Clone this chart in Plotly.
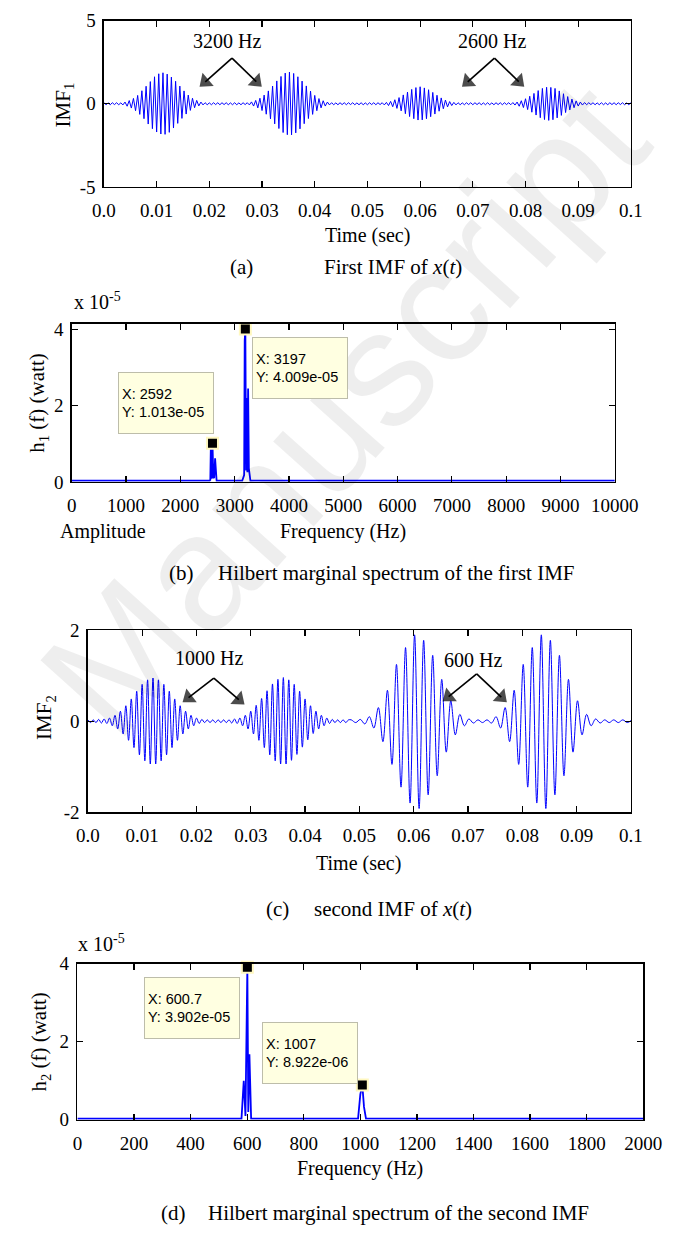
import math
import numpy as np
import plotly.graph_objects as go

W, H = 690, 1237
SERIF = "Liberation Serif, Times New Roman, serif"
NARROW = "Liberation Sans Narrow, Arial Narrow, Liberation Sans, Arial, sans-serif"
BLUE = "#0000ff"

# ---------------- data: panel (a) first IMF, alternating extrema, sampled every 0.4 ms
imf1_dt = 0.0004
imf1_quiet0 = [0.06, -0.06, 0.05, -0.06, 0.06, -0.05, 0.06, -0.06, 0.05, -0.07]
imf1_burst1 = [0.10, -0.15, 0.19, -0.26, 0.32, -0.42, 0.50, -0.64, 0.78, -0.90, 1.05, -1.22, 1.33,
               -1.50, 1.62, -1.70, 1.80, -1.82, 1.86, -1.84, 1.78, -1.72, 1.60, -1.46, 1.35, -1.18,
               1.06, -0.88, 0.77, -0.62, 0.52, -0.40, 0.33, -0.24, 0.20, -0.13, 0.10]
imf1_quiet1 = [-0.07, 0.06, -0.06, 0.05, -0.06, 0.06, -0.05, 0.06, -0.06, 0.06, -0.05, 0.06, -0.06,
               0.05, -0.06, 0.06, -0.06, 0.05, -0.06, 0.06, -0.05, 0.06, -0.07]
imf1_burst2 = [0.11, -0.14, 0.20, -0.25, 0.33, -0.41, 0.52, -0.63, 0.77, -0.91, 1.06, -1.21, 1.37,
               -1.49, 1.64, -1.73, 1.84, -1.86, 1.90, -1.87, 1.82, -1.75, 1.62, -1.51, 1.36, -1.20,
               1.07, -0.89, 0.76, -0.64, 0.50, -0.42, 0.31, -0.25, 0.18, -0.14, 0.10]
imf1_quiet2 = [-0.07, 0.06, -0.06, 0.05, -0.06, 0.06, -0.05, 0.06, -0.06, 0.06, -0.05, 0.06, -0.06,
               0.05, -0.06, 0.06, -0.06, 0.05, -0.06, 0.06, -0.05, 0.06, -0.06, 0.06, -0.05, 0.06, -0.07]
imf1_burst3 = [0.08, -0.11, 0.14, -0.18, 0.24, -0.28, 0.37, -0.43, 0.53, -0.60, 0.70, -0.77, 0.86,
               -0.90, 0.97, -0.98, 1.02, -0.97, 0.95, -0.90, 0.84, -0.78, 0.68, -0.62, 0.51, -0.45,
               0.35, -0.30, 0.22, -0.19, 0.13, -0.11, 0.08]
imf1_quiet3 = [-0.07, 0.06, -0.06, 0.05, -0.06, 0.06, -0.05, 0.06, -0.06, 0.06, -0.05, 0.06, -0.06,
               0.05, -0.06, 0.06, -0.06, 0.05, -0.06, 0.06, -0.05, 0.06, -0.06, 0.06, -0.05, 0.06,
               -0.06, 0.07]
imf1_burst4 = [-0.08, 0.10, -0.15, 0.18, -0.23, 0.30, -0.35, 0.45, -0.51, 0.62, -0.68, 0.79, -0.84,
               0.92, -0.95, 0.99, -1.00, 0.98, -0.96, 0.92, -0.85, 0.77, -0.70, 0.60, -0.53, 0.43,
               -0.37, 0.28, -0.24, 0.17, -0.14, 0.10, -0.08]
imf1_quiet4 = [0.07, -0.06, 0.06, -0.05, 0.06, -0.06, 0.05, -0.06, 0.06, -0.06, 0.05, -0.06, 0.06,
               -0.05, 0.06, -0.06, 0.06, -0.05, 0.06, -0.06, 0.05, -0.06, 0.06]

# ---------------- data: panel (c) second IMF, extrema of 1000 Hz part (0.5 ms) and 600 Hz part
imf2_dt_a = 0.0005
imf2_a_values = ([0.03, -0.03, 0.03, -0.03, 0.04, -0.04, 0.05]
                 + [-0.05, 0.07, -0.10, 0.13, -0.17, 0.22, -0.28, 0.34, -0.42, 0.49, -0.58, 0.66,
                    -0.74, 0.81, -0.87, 0.91, -0.94, 0.95, -0.94, 0.91, -0.87, 0.81, -0.74, 0.66,
                    -0.58, 0.49, -0.42, 0.34, -0.28, 0.22, -0.17, 0.13, -0.10, 0.07, -0.05]
                 + [0.04, -0.03, 0.03, -0.03, 0.03, -0.03, 0.03, -0.03, 0.03, -0.03, 0.03, -0.04, 0.05]
                 + [-0.05, 0.07, -0.10, 0.13, -0.17, 0.22, -0.28, 0.35, -0.42, 0.50, -0.58, 0.67,
                    -0.74, 0.82, -0.87, 0.92, -0.94, 0.96, -0.94, 0.91, -0.86, 0.81, -0.73, 0.66,
                    -0.57, 0.49, -0.41, 0.34, -0.27, 0.22, -0.17, 0.13, -0.10, 0.07, -0.05]
                 + [0.04, -0.03, 0.03, -0.03, 0.03, -0.03, 0.03])
imf2_t0_b = 0.0485
imf2_dt_b = 1.0 / 1200.0
imf2_b_values = ([0.03, -0.03, 0.04, -0.06]
                 + [0.10, -0.15, 0.30, -0.45, 0.68, -0.95, 1.25, -1.45, 1.62, -1.80, 1.90, -1.92,
                    1.78, -1.62, 1.45, -1.20, 0.92, -0.68, 0.45, -0.30, 0.15, -0.10]
                 + [0.05, -0.04, 0.03, -0.03, 0.03, -0.04]
                 + [0.10, -0.15, 0.30, -0.45, 0.68, -0.95, 1.25, -1.45, 1.62, -1.80, 1.90, -1.92,
                    1.78, -1.62, 1.45, -1.20, 0.92, -0.68, 0.45, -0.30, 0.15, -0.10]
                 + [0.05, -0.04, 0.03, -0.03, 0.03, -0.03, 0.03, -0.03, 0.03])

# ---------------- data: Hilbert marginal spectra (values in units of 1e-5 watt)
h_unit = 1e-5
h1_freq = [0, 2540, 2552, 2562, 2576, 2592, 2608, 2624, 2640, 2654, 2668, 3140, 3160, 3175, 3185,
           3197, 3210, 3222, 3235, 3248, 3262, 3276, 3290, 10000]
h1_vals = [0.03, 0.03, 0.05, 0.95, 0.08, 1.013, 0.10, 0.12, 0.62, 0.05, 0.03, 0.03, 0.12, 0.18, 3.70,
           4.009, 0.30, 2.20, 0.25, 2.45, 0.35, 0.12, 0.03, 0.03]
h1_tips_x = [2592, 3197]
h1_tips_y = [1.013, 4.009]

h2_freq = [0, 580, 588, 594, 600.7, 604, 608, 614, 992, 1000, 1007, 1013, 1020, 2000]
h2_vals = [0.03, 0.03, 1.0, 0.1, 3.902, 0.2, 1.68, 0.03, 0.03, 0.65, 0.8922, 0.33, 0.03, 0.03]
h2_tips_x = [600.7, 1007]
h2_tips_y = [3.902, 0.8922]

# ---------------- tick labels
time_ticks = [0.0, 0.01, 0.02, 0.03, 0.04, 0.05, 0.06, 0.07, 0.08, 0.09, 0.1]
time_ticktext = ["0.0", "0.01", "0.02", "0.03", "0.04", "0.05", "0.06", "0.07", "0.08", "0.09", "0.1"]
f1_ticks = [0, 1000, 2000, 3000, 4000, 5000, 6000, 7000, 8000, 9000, 10000]
f2_ticks = [0, 200, 400, 600, 800, 1000, 1200, 1400, 1600, 1800, 2000]
h_ticks = [0, 2, 4]

# ---------------- layout geometry (pixels)
PANELS = {
    "a": dict(x="x", y="y", left=97, right=653, top=10.7, bottom=180, xr=[0, 0.1], yr=[-5, 5]),
    "b": dict(x="x2", y="y2", left=63, right=636, top=319, bottom=480, xr=[0, 10000], yr=[0, 4.15e-5]),
    "c": dict(x="x3", y="y3", left=80, right=653, top=631, bottom=816, xr=[0, 0.1], yr=[-2, 2]),
    "d": dict(x="x4", y="y4", left=69, right=666, top=970, bottom=1129, xr=[0, 2000], yr=[0, 4e-5]),
}

# ---------------- build series
imf1_values = (imf1_quiet0 + imf1_burst1 + imf1_quiet1 + imf1_burst2 + imf1_quiet2 + imf1_burst3
               + imf1_quiet3 + imf1_burst4 + imf1_quiet4)
imf1_t = np.arange(len(imf1_values)) * imf1_dt
imf2_t = np.concatenate([np.arange(len(imf2_a_values)) * imf2_dt_a,
                         imf2_t0_b + np.arange(len(imf2_b_values)) * imf2_dt_b])
imf2_values = imf2_a_values + imf2_b_values

fig = go.Figure()
fig.add_trace(go.Scatter(x=imf1_t, y=imf1_values, mode="lines", xaxis="x", yaxis="y",
                         line=dict(color=BLUE, width=1), hoverinfo="skip"))
fig.add_trace(go.Scatter(x=h1_freq, y=[v * h_unit for v in h1_vals], mode="lines", xaxis="x2", yaxis="y2",
                         line=dict(color=BLUE, width=1.8), hoverinfo="skip"))
fig.add_trace(go.Scatter(x=h1_tips_x, y=[v * h_unit for v in h1_tips_y], mode="markers", xaxis="x2",
                         yaxis="y2", cliponaxis=False, hoverinfo="skip",
                         marker=dict(symbol="square", size=11, color="black",
                                     line=dict(color="#fff8c0", width=2))))
fig.add_trace(go.Scatter(x=imf2_t, y=imf2_values, mode="lines", xaxis="x3", yaxis="y3",
                         line=dict(color=BLUE, width=1, shape="spline"), hoverinfo="skip"))
fig.add_trace(go.Scatter(x=h2_freq, y=[v * h_unit for v in h2_vals], mode="lines", xaxis="x4", yaxis="y4",
                         line=dict(color=BLUE, width=1.8), hoverinfo="skip"))
fig.add_trace(go.Scatter(x=h2_tips_x, y=[v * h_unit for v in h2_tips_y], mode="markers", xaxis="x4",
                         yaxis="y4", cliponaxis=False, hoverinfo="skip",
                         marker=dict(symbol="square", size=11, color="black",
                                     line=dict(color="#fff8c0", width=2))))

common = dict(showline=True, linecolor="black", linewidth=1.5, mirror="ticks", ticks="inside",
              ticklen=6, tickwidth=1.2, tickcolor="black", showgrid=False, zeroline=False,
              tickfont=dict(family=SERIF, size=19, color="black"), fixedrange=True)


def xdom(p):
    return [p["left"] / W, p["right"] / W]


def ydom(p):
    return [1 - p["bottom"] / H, 1 - p["top"] / H]


pa, pb, pc, pd = PANELS["a"], PANELS["b"], PANELS["c"], PANELS["d"]
fig.update_layout(
    width=W, height=H, margin=dict(l=0, r=0, t=0, b=0),
    paper_bgcolor="white", plot_bgcolor="rgba(0,0,0,0)", showlegend=False,
    xaxis=dict(common, domain=xdom(pa), anchor="y", range=pa["xr"],
               tickvals=time_ticks, ticktext=time_ticktext, ticklabelstandoff=6),
    yaxis=dict(common, domain=ydom(pa), anchor="x", range=pa["yr"],
               tickvals=[-5, 0, 5], ticktext=["-5", "0", "5"], ticklabelstandoff=3),
    xaxis2=dict(common, domain=xdom(pb), anchor="y2", range=pb["xr"],
                tickvals=f1_ticks, ticktext=[str(v) for v in f1_ticks], ticklabelstandoff=6),
    yaxis2=dict(common, domain=ydom(pb), anchor="x2", range=pb["yr"],
                tickvals=[v * h_unit for v in h_ticks], ticktext=[str(v) for v in h_ticks],
                ticklabelstandoff=3),
    xaxis3=dict(common, domain=xdom(pc), anchor="y3", range=pc["xr"],
                tickvals=time_ticks, ticktext=time_ticktext, ticklabelstandoff=6),
    yaxis3=dict(common, domain=ydom(pc), anchor="x3", range=pc["yr"],
                tickvals=[-2, 0, 2], ticktext=["-2", "0", "2"], ticklabelstandoff=3),
    xaxis4=dict(common, domain=xdom(pd), anchor="y4", range=pd["xr"],
                tickvals=f2_ticks, ticktext=[str(v) for v in f2_ticks], ticklabelstandoff=6),
    yaxis4=dict(common, domain=ydom(pd), anchor="x4", range=pd["yr"],
                tickvals=[v * h_unit for v in h_ticks], ticktext=[str(v) for v in h_ticks],
                ticklabelstandoff=3),
)

anns = []


def ann(text, xpx, ypx, size=20, xanchor="center", angle=0, family=SERIF, color="black"):
    anns.append(dict(text=text, x=xpx / W, y=1 - ypx / H, xref="paper", yref="paper",
                     xanchor=xanchor, yanchor="middle", showarrow=False, textangle=angle,
                     font=dict(family=family, size=size, color=color)))


# watermark
ann("Manuscript", 350, 405, size=165, angle=-48, family="Liberation Sans, Arial, sans-serif",
    color="rgba(0,0,0,0.065)")

# axis titles
ann("Time (sec)", 375, 229)
ann("Amplitude", 49, 530, xanchor="left")
ann("Frequency (Hz)", 349, 530)
ann("Time (sec)", 366, 868)
ann("Frequency (Hz)", 367, 1178)
ann("IMF<sub>1</sub>", 55, 97, size=21, angle=-90)
ann("h<sub>1</sub> (f) (watt)", 28, 400, size=21, angle=-90)
ann("IMF<sub>2</sub>", 35, 720, size=21, angle=-90)
ann("h<sub>2</sub> (f) (watt)", 30, 1050, size=21, angle=-90)
ann("x 10<sup>-5</sup>", 63, 296, xanchor="left")
ann("x 10<sup>-5</sup>", 68, 949, xanchor="left")

# captions
ann("(a)", 242, 261, size=21)
ann("First IMF of <i>x</i>(<i>t</i>)", 327, 261, size=21, xanchor="left")
ann("(b)", 179, 573, size=21)
ann("Hilbert marginal spectrum of the first IMF", 215, 573, size=21, xanchor="left")
ann("(c)", 280, 915, size=21)
ann("second IMF of <i>x</i>(<i>t</i>)", 317, 915, size=21, xanchor="left")
ann("(d)", 170, 1224, size=21)
ann("Hilbert marginal spectrum of the second IMF", 205, 1224, size=21, xanchor="left")

# frequency labels with arrows (label position, arrow apex, arrow tips) in axis units
freq_labels = [("a", "3200 Hz", (0.0234, 3.74), (0.0243, 2.74), [(0.0182, 1.03), (0.0299, 1.03)]),
               ("a", "2600 Hz", (0.0736, 3.74), (0.0741, 2.74), [(0.0680, 1.03), (0.0797, 1.03)]),
               ("c", "1000 Hz", (0.0223, 1.38), (0.0232, 0.95), [(0.0175, 0.42), (0.0288, 0.37)]),
               ("c", "600 Hz", (0.0710, 1.34), (0.0716, 1.04), [(0.0654, 0.44), (0.0771, 0.42)])]
HEAD = 15  # arrow head marker size in px
for key, txt, lab, apex, tips in freq_labels:
    p = PANELS[key]
    sx = (p["right"] - p["left"]) / (p["xr"][1] - p["xr"][0])
    sy = (p["bottom"] - p["top"]) / (p["yr"][1] - p["yr"][0])
    anns.append(dict(text=txt, x=lab[0], y=lab[1], xref=p["x"], yref=p["y"], showarrow=False,
                     font=dict(family=SERIF, size=20, color="black")))
    for tx, ty in tips:
        dx = (tx - apex[0]) * sx
        dy = (ty - apex[1]) * sy
        L = math.hypot(dx, dy)
        mx = tx - dx / L * (HEAD / 2) / sx
        my = ty - dy / L * (HEAD / 2) / sy
        fig.add_trace(go.Scatter(x=[apex[0], mx], y=[apex[1], my], mode="lines+markers",
                                 xaxis=p["x"], yaxis=p["y"], hoverinfo="skip", cliponaxis=False,
                                 line=dict(color="black", width=1.6),
                                 marker=dict(symbol="triangle-up", size=[0, HEAD], angleref="previous",
                                             color="black", line=dict(width=0))))

# data tips
tips = [("x2", "y2", h1_tips_x[0], h1_tips_y[0], 855, 2.89e-5),
        ("x2", "y2", h1_tips_x[1], h1_tips_y[1], 3316, 3.79e-5),
        ("x4", "y4", h2_tips_x[0], h2_tips_y[0], 234, 3.65e-5),
        ("x4", "y4", h2_tips_x[1], h2_tips_y[1], 653, 2.50e-5)]
for xr, yr, fx, fy, bx, by in tips:
    anns.append(dict(text=f"X: {fx:g}<br>Y: {fy * h_unit:.3e}", x=bx, y=by, xref=xr, yref=yr,
                     xanchor="left", yanchor="top", align="left", valign="middle",
                     showarrow=False, bgcolor="#ffffe1", bordercolor="#bdbdaa", borderwidth=1,
                     borderpad=3, width=88, height=54,
                     font=dict(family=NARROW, size=14.5, color="black")))

fig.update_layout(annotations=anns)
fig.write_html("out.html", config={"displayModeBar": False, "staticPlot": True},
               post_script="document.body.style.margin='0px';")
